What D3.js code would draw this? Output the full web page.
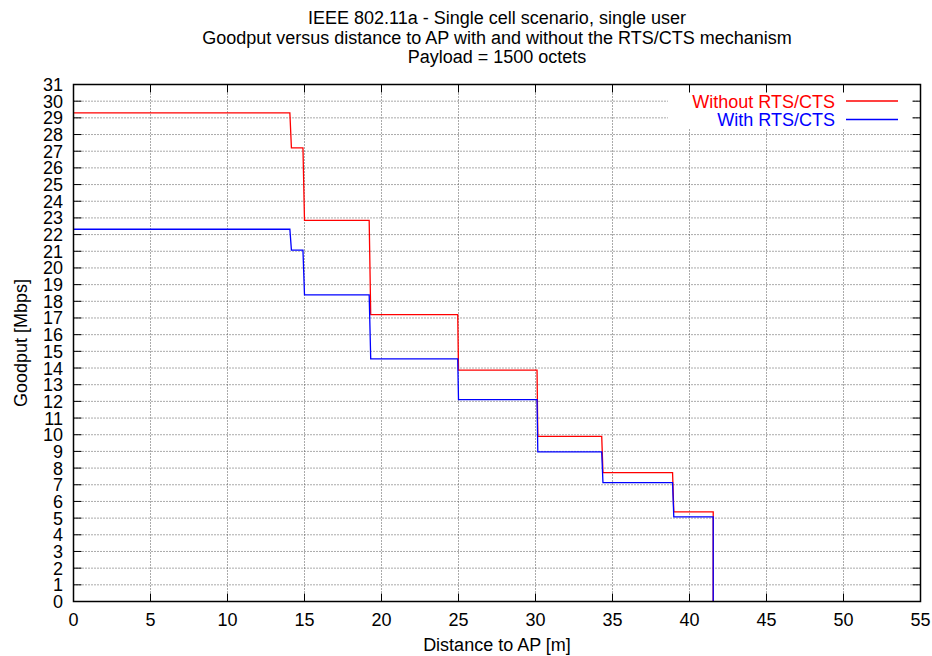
<!DOCTYPE html>
<html><head><meta charset="utf-8">
<script src="https://cdn.jsdelivr.net/npm/d3@7"></script>
<style>body{margin:0;background:#fff}svg{font-family:"Liberation Sans",Arial,sans-serif}</style>
</head><body><svg id="c" width="932" height="656"></svg>
<script>
const titleLines = ["IEEE 802.11a - Single cell scenario, single user",
  "Goodput versus distance to AP with and without the RTS/CTS mechanism",
  "Payload = 1500 octets"];
const xLabel = "Distance to AP [m]";
const yLabel = "Goodput [Mbps]";
const xTicks = [0,5,10,15,20,25,30,35,40,45,50,55];
const yTicks = d3.range(0,32);
// step series: [distance, goodput]
const withoutRTS = [[0,29.3],[14.05,29.3],[14.15,27.2],[14.9,27.2],[15.0,22.85],[19.2,22.85],[19.3,17.2],[24.95,17.2],[25.0,13.87],[30.1,13.87],[30.15,9.9],[34.3,9.9],[34.38,7.73],[38.9,7.73],[38.98,5.38],[41.54,5.38],[41.54,0]];
const withRTS = [[0,22.32],[14.05,22.32],[14.15,21.07],[14.9,21.07],[15.0,18.38],[19.2,18.38],[19.3,14.55],[24.95,14.55],[25.0,12.1],[30.1,12.1],[30.15,8.97],[34.3,8.97],[34.38,7.13],[38.9,7.13],[38.98,5.08],[41.54,5.08],[41.54,0]];
const series = [
  {name:"Without RTS/CTS", color:"#ff0000", data:withoutRTS},
  {name:"With RTS/CTS", color:"#0000ff", data:withRTS}
];

const FS = 18;
const svg = d3.select("#c");
const L=73.5,R=920.5,T=84.5,B=601.5;
const x = d3.scaleLinear().domain([0,55]).range([L,R]);
const y = d3.scaleLinear().domain([0,31]).range([B,T]);

// grid
const g = svg.append("g");
g.selectAll("line.gy").data(yTicks.filter(d=>d>0&&d<31)).join("line")
  .attr("x1",L).attr("x2",R).attr("y1",d=>y(d)).attr("y2",d=>y(d))
  .attr("stroke","#555").attr("stroke-width",1).attr("stroke-dasharray","1,2");
g.selectAll("line.gx").data(xTicks.filter(d=>d>0&&d<55)).join("line")
  .attr("y1",T).attr("y2",B).attr("x1",d=>x(d)).attr("x2",d=>x(d))
  .attr("stroke","#555").attr("stroke-width",1).attr("stroke-dasharray","1,2");

// legend background
svg.append("rect").attr("x",668).attr("y",88).attr("width",245).attr("height",40).attr("fill","#fff");

// ticks (mirrored, inward)
const tk=8;
const tg = svg.append("g").attr("stroke","#000").attr("stroke-width",1);
yTicks.forEach(d=>{
  tg.append("line").attr("x1",L).attr("x2",L+tk).attr("y1",y(d)).attr("y2",y(d));
  tg.append("line").attr("x1",R).attr("x2",R-tk).attr("y1",y(d)).attr("y2",y(d));
});
xTicks.forEach(d=>{
  tg.append("line").attr("y1",B).attr("y2",B-tk).attr("x1",x(d)).attr("x2",x(d));
  tg.append("line").attr("y1",T).attr("y2",T+tk).attr("x1",x(d)).attr("x2",x(d));
});

// tick labels
svg.append("g").selectAll("text").data(yTicks).join("text")
  .attr("x",63).attr("y",d=>y(d)+6.5).attr("text-anchor","end").attr("font-size",FS).text(d=>d);
svg.append("g").selectAll("text").data(xTicks).join("text")
  .attr("x",d=>x(d)).attr("y",626).attr("text-anchor","middle").attr("font-size",FS).text(d=>d);

// series
const line = d3.line().x(d=>x(d[0])).y(d=>y(d[1]));
series.forEach(s=>{
  svg.append("path").attr("d",line(s.data)).attr("fill","none").attr("stroke",s.color).attr("stroke-width",1.3);
});

// border
svg.append("rect").attr("x",L).attr("y",T).attr("width",R-L).attr("height",B-T)
  .attr("fill","none").attr("stroke","#000").attr("stroke-width",1.5);

// legend
series.forEach((s,i)=>{
  const ly = 101 + i*18.5;
  svg.append("text").attr("x",835).attr("y",ly+6.5).attr("text-anchor","end").attr("font-size",FS).attr("fill",s.color).text(s.name);
  svg.append("line").attr("x1",846).attr("x2",898).attr("y1",ly).attr("y2",ly).attr("stroke",s.color).attr("stroke-width",1.3);
});

// titles
titleLines.forEach((t,i)=>{
  svg.append("text").attr("x",(L+R)/2).attr("y",24+i*19.5).attr("text-anchor","middle").attr("font-size",FS).text(t);
});
svg.append("text").attr("x",(L+R)/2).attr("y",651).attr("text-anchor","middle").attr("font-size",FS).text(xLabel);
svg.append("text").attr("transform",`translate(27,${(T+B)/2}) rotate(-90)`).attr("text-anchor","middle").attr("font-size",FS).text(yLabel);
</script></body></html>
